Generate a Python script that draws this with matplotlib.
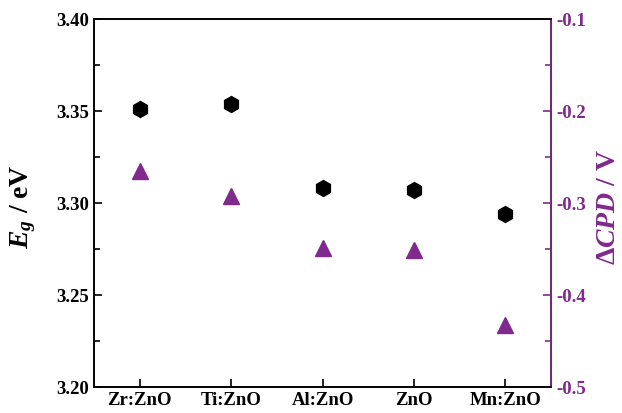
import matplotlib
matplotlib.use("Agg")
import matplotlib.pyplot as plt
from matplotlib.ticker import MultipleLocator

# data
samples = ["Zr:ZnO", "Ti:ZnO", "Al:ZnO", "ZnO", "Mn:ZnO"]
eg = [3.351, 3.354, 3.308, 3.307, 3.294]
dcpd = [-0.265, -0.292, -0.349, -0.351, -0.433]

purple = "#7f2a8c"
plt.rcParams['font.family'] = ['Liberation Serif', 'DejaVu Serif']
plt.rcParams['font.weight'] = 'bold'
plt.rcParams['mathtext.fontset'] = 'custom'
plt.rcParams['mathtext.rm'] = 'Liberation Serif:bold'
plt.rcParams['mathtext.it'] = 'Liberation Serif:bold:italic'

fig = plt.figure(figsize=(6.22, 4.14), dpi=100)
ax = fig.add_axes([0.151, 0.063, 0.735, 0.889])
x = list(range(len(samples)))

ax.plot(x, eg, linestyle='none', marker='h', markersize=11.5, color='black')
ax.set_xlim(-0.5, 4.5)
ax.set_ylim(3.20, 3.40)
ax.yaxis.set_major_locator(MultipleLocator(0.05))
ax.yaxis.set_minor_locator(MultipleLocator(0.025))
ax.set_xticks(x)
ax.set_xticklabels(samples)
ax.tick_params(axis='both', which='both', direction='in', labelsize=13.5)
ax.tick_params(axis='y', which='major', length=6, width=1.2)
ax.tick_params(axis='y', which='minor', length=4, width=1.2)
ax.tick_params(axis='x', length=6, width=1.2, pad=3)
for lab in ax.get_yticklabels() + ax.get_xticklabels():
    lab.set_fontweight('bold')
for s in ax.spines.values():
    s.set_linewidth(1.2)
fig.text(0.038, 0.5, r"$E_g$ / eV", rotation=90, va='center', ha='center', fontsize=20,
         fontweight='bold')

ax2 = ax.twinx()
ax2.plot(x, dcpd, linestyle='none', marker='^', markersize=12, color=purple)
ax2.set_ylim(-0.5, -0.1)
ax2.yaxis.set_major_locator(MultipleLocator(0.1))
ax2.yaxis.set_minor_locator(MultipleLocator(0.05))
ax2.tick_params(axis='y', which='both', direction='in', colors=purple, labelsize=13.5, width=1.2)
ax2.tick_params(axis='y', which='major', length=6)
ax2.tick_params(axis='y', which='minor', length=4)
for s in ax2.spines.values():
    s.set_linewidth(1.2)
ax2.spines['right'].set_color(purple)
ax2.yaxis.set_major_formatter(plt.FuncFormatter(lambda v, p: f"{v:.1f}"))
for lab in ax2.get_yticklabels():
    lab.set_fontweight('bold')
fig.text(0.978, 0.5, "$\\mathit{\u0394CPD}$ / V", rotation=90, va='center', ha='center',
         fontsize=20, fontweight='bold', color=purple)

fig.savefig("out.png", dpi=100)
